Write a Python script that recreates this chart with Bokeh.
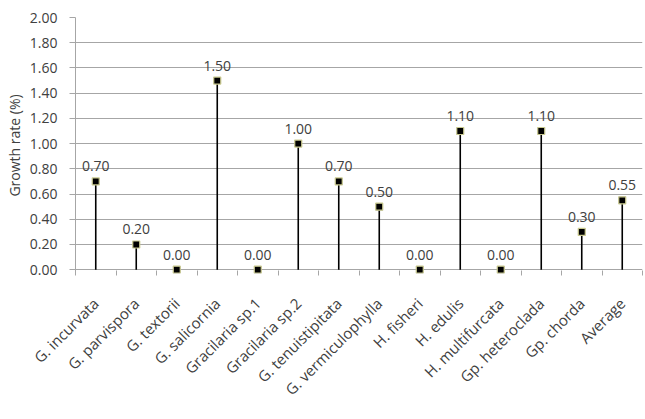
import math
from bokeh.plotting import figure
from bokeh.models import ColumnDataSource, FixedTicker, PrintfTickFormatter
from bokeh.core.properties import value
from bokeh.embed import file_html
from bokeh.resources import INLINE

species = ["G. incurvata", "G. parvispora", "G. textorii", "G. salicornia",
           "Gracilaria sp.1", "Gracilaria sp.2", "G. tenuistipitata",
           "G. vermiculophylla", "H. fisheri", "H. edulis", "H. multifurcata",
           "Gp. heteroclada", "Gp. chorda", "Average"]
growth = [0.70, 0.20, 0.00, 1.50, 0.00, 1.00, 0.70, 0.50, 0.00, 1.10, 0.00, 1.10, 0.30, 0.55]
y_ticks = [0.0, 0.2, 0.4, 0.6, 0.8, 1.0, 1.2, 1.4, 1.6, 1.8, 2.0]
y_title = "Growth rate (%)"

FONT = "Open Sans"
TXT = "#404040"
GRID = "#a6a6a6"

n = len(species)
centers = [i + 0.5 for i in range(n)]
bounds = [float(i) for i in range(n + 1)]

src = ColumnDataSource(dict(
    x=centers, y=growth, y0=[0.0] * n,
    lab=["%.2f" % v for v in growth],
))

p = figure(x_range=(0, n), y_range=(-0.03, 2.0), width=645, height=419,
           output_backend="svg", toolbar_location=None,
           min_border_left=75, min_border_right=3, min_border_top=17,
           min_border_bottom=146, outline_line_color=None,
           background_fill_color="white", border_fill_color="white")

p.segment(x0="x", y0="y0", x1="x", y1="y", source=src, line_color="black", line_width=1.6)
p.scatter(x="x", y="y", source=src, marker="square", size=7, fill_color="black",
          line_color="#c9c98f", line_width=1.2)
p.text(x="x", y="y", text="lab", source=src, text_align="center", text_baseline="bottom",
       y_offset=-10, text_font_size="14px", text_color=TXT, text_font=value(FONT))

p.yaxis.ticker = FixedTicker(ticks=y_ticks)
p.yaxis.formatter = PrintfTickFormatter(format="%.2f")
p.yaxis.axis_label = y_title
p.yaxis.axis_label_standoff = 3
p.yaxis.axis_label_text_font = FONT
p.yaxis.axis_label_text_font_size = "14px"
p.yaxis.axis_label_text_font_style = "normal"
p.yaxis.axis_label_text_color = TXT

p.xaxis.ticker = FixedTicker(ticks=centers, minor_ticks=bounds)
p.xaxis.major_label_overrides = {c: s for c, s in zip(centers, species)}

for ax in (p.xaxis, p.yaxis):
    ax.axis_line_color = GRID
    ax.major_tick_line_color = GRID
    ax.major_label_text_font = FONT
    ax.major_label_text_color = TXT

p.yaxis.major_label_text_font_size = "14px"
p.xaxis.major_label_text_font_size = "15px"

p.yaxis.minor_tick_line_color = None
p.yaxis.major_tick_in = 0
p.yaxis.major_tick_out = 6
p.yaxis.major_label_standoff = 12

p.xaxis.axis_line_color = None
p.xaxis.major_tick_in = 0
p.xaxis.major_tick_out = 0
p.xaxis.minor_tick_line_color = GRID
p.xaxis.minor_tick_in = 3
p.xaxis.minor_tick_out = 2
p.xaxis.major_label_orientation = math.pi / 4
p.xaxis.major_label_standoff = 25

p.xgrid.grid_line_color = None
p.ygrid.grid_line_color = GRID
p.ygrid.grid_line_width = 1
p.ygrid.ticker = FixedTicker(ticks=y_ticks)

open("out.html", "w").write(file_html(p, INLINE))
